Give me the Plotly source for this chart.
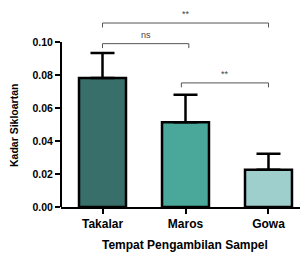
import plotly.graph_objects as go

categories = ["Takalar", "Maros", "Gowa"]
means = [0.0782, 0.0513, 0.0226]
errors = [0.0151, 0.0167, 0.0097]
colors = ["#386f6a", "#4aa89b", "#9fcfcc"]
y_ticks = [0.00, 0.02, 0.04, 0.06, 0.08, 0.10]
x_title = "Tempat Pengambilan Sampel"
y_title = "Kadar Sikloartan"

# significance brackets: (x start, x end, y level, label)
brackets = [
    (0.0, 2.0, 0.1115, "**"),
    (0.0, 1.04, 0.0990, "ns"),
    (0.95, 2.0, 0.0752, "**"),
]

fig = go.Figure()
fig.add_trace(go.Bar(
    x=[0, 1, 2], y=means, width=0.566,
    marker=dict(color=colors, line=dict(color="black", width=2.5)),
    error_y=dict(type="data", array=errors, arrayminus=[0, 0, 0], symmetric=False,
                 thickness=2.5, width=12, color="black"),
    showlegend=False,
))

shapes = [dict(type="line", xref="paper", yref="y", x0=0, x1=0, y0=0, y1=0.10,
               line=dict(color="black", width=2))]
annotations = []
for x0, x1, y, lab in brackets:
    drop = 0.0027
    for xa, xb, ya, yb in [(x0, x1, y, y), (x0, x0, y, y - drop), (x1, x1, y, y - drop)]:
        shapes.append(dict(type="line", xref="x", yref="y", x0=xa, x1=xb, y0=ya, y1=yb,
                           line=dict(color="#555555", width=1)))
    annotations.append(dict(x=(x0 + x1) / 2, y=y + 0.0012, xref="x", yref="y", text=lab,
                            showarrow=False, yanchor="bottom",
                            font=dict(size=9, color="#444444", family="Arial, Liberation Sans")))

annotations.append(dict(x=0.502, y=-0.192, xref="paper", yref="paper", text=x_title,
                        showarrow=False, xanchor="center", yanchor="middle",
                        font=dict(size=12, weight="bold", family="Arial, Liberation Sans")))
annotations.append(dict(x=-0.1903, y=0.414, xref="paper", yref="paper", text=y_title,
                        showarrow=False, xanchor="center", yanchor="middle", textangle=-90,
                        font=dict(size=10.5, weight="bold", family="Arial, Liberation Sans")))

fig.update_layout(
    width=300, height=247,
    margin=dict(l=53, r=0, t=1, b=48),
    plot_bgcolor="white", paper_bgcolor="white",
    font=dict(family="Arial, Liberation Sans", color="black"),
    shapes=shapes, annotations=annotations,
    xaxis=dict(range=[-0.5, 2.476], tickvals=[0, 1, 2], ticktext=categories,
               showline=True, linecolor="black", linewidth=2, automargin=False,
               ticks="outside", ticklen=5, tickwidth=2, tickcolor="black",
               showgrid=False, zeroline=False,
               tickfont=dict(size=12, weight="bold")),
    yaxis=dict(range=[0, 0.12], tickvals=y_ticks, tickformat=".2f", automargin=False,
               showline=False, ticks="outside", ticklen=5, tickwidth=2, tickcolor="black",
               showgrid=False, zeroline=False,
               tickfont=dict(size=10.5, weight="bold")),
)

fig.write_html("out.html")
